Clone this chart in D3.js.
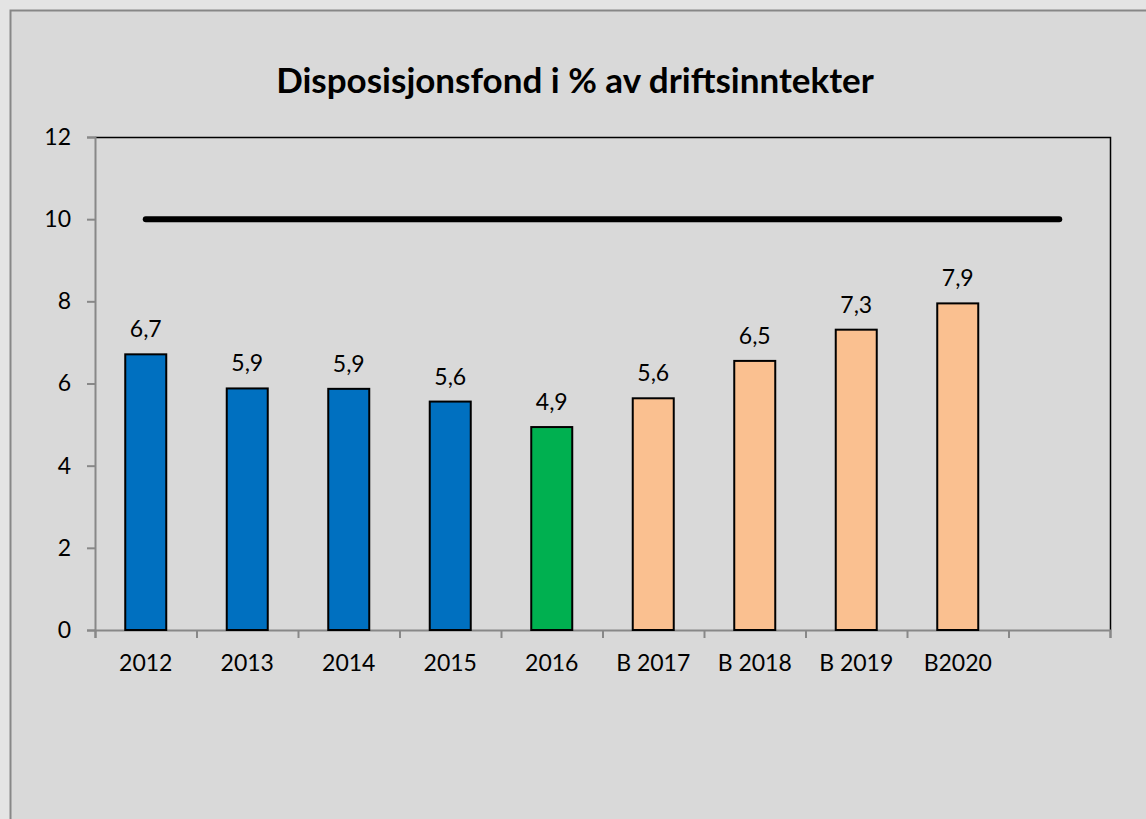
<!DOCTYPE html>
<html>
<head>
<meta charset="utf-8">
<script src="https://cdn.jsdelivr.net/npm/d3@7"></script>
<style>
  html, body { margin: 0; padding: 0; background: #e4e4e4; }
  svg { display: block; }
  text { font-family: Lato, "Open Sans", sans-serif; fill: #000; }
</style>
</head>
<body>
<svg id="chart" width="1146" height="819"></svg>
<script>
// data
var categories = ['2012', '2013', '2014', '2015', '2016', 'B 2017', 'B 2018', 'B 2019', 'B2020', ''];
var values = [6.71, 5.88, 5.87, 5.56, 4.94, 5.64, 6.55, 7.31, 7.95];
var labels = ['6,7', '5,9', '5,9', '5,6', '4,9', '5,6', '6,5', '7,3', '7,9'];
var barColors = ['#0070c0', '#0070c0', '#0070c0', '#0070c0', '#00b050', '#fac090', '#fac090', '#fac090', '#fac090'];
var target = [10, 10, 10, 10, 10, 10, 10, 10, 10, 10];
var yTicks = [0, 2, 4, 6, 8, 10, 12];

var svg = d3.select('#chart');
var pLeft = 95, pRight = 1110, pTop = 137, pBottom = 630;

// chart area
svg.append('rect').attr('x', 10.5).attr('y', 10.5).attr('width', 1150).attr('height', 830)
    .attr('fill', '#d9d9d9').attr('stroke', '#878787').attr('stroke-width', 2);

svg.append('text').attr('x', 575).attr('y', 93).attr('text-anchor', 'middle')
    .style('font-size', '35px').style('font-weight', 'bold')
    .text('Disposisjonsfond i % av driftsinntekter');

var x = d3.scaleBand().domain(categories).range([pLeft, pRight])
    .paddingInner(0.596).paddingOuter(0.298);
var xEdge = d3.scaleLinear().domain([0, categories.length]).range([pLeft, pRight]);
var y = d3.scaleLinear().domain([0, 12]).range([pBottom, pTop]);

// plot area frame (top / right)
svg.append('path')
    .attr('d', 'M' + pLeft + ',' + (pTop + 0.5) + 'H' + (pRight + 0.5) + 'V' + pBottom)
    .attr('fill', 'none').attr('stroke', '#000').attr('stroke-width', 1.5);

// y axis
var yAxis = svg.append('g').attr('transform', 'translate(' + pLeft + ',0)')
    .call(d3.axisLeft(y).tickValues(yTicks).tickSize(8).tickPadding(16));
yAxis.selectAll('path, line').attr('stroke', '#888').attr('stroke-width', 2);
yAxis.selectAll('text').style('font-size', '23px').style('font-family', 'Lato, sans-serif').attr('fill', '#000');

// x axis ticks at slot edges
var xTickAxis = svg.append('g').attr('transform', 'translate(0,' + pBottom + ')')
    .call(d3.axisBottom(xEdge).tickValues(d3.range(0, categories.length + 1)).tickSize(8).tickFormat(''));
xTickAxis.selectAll('path, line').attr('stroke', '#888').attr('stroke-width', 2);

// x labels
var xAxis = svg.append('g').attr('transform', 'translate(0,' + pBottom + ')')
    .call(d3.axisBottom(x).tickSize(0).tickPadding(25));
xAxis.select('.domain').remove();
xAxis.selectAll('text').style('font-size', '23px').style('font-family', 'Lato, sans-serif').attr('fill', '#000');

// bars
svg.append('g').selectAll('rect').data(values).enter().append('rect')
    .attr('x', function (d, i) { return x(categories[i]); })
    .attr('y', function (d) { return y(d); })
    .attr('width', x.bandwidth())
    .attr('height', function (d) { return y(0) - y(d); })
    .attr('fill', function (d, i) { return barColors[i]; })
    .attr('stroke', '#000').attr('stroke-width', 2);

// value labels
svg.append('g').selectAll('text').data(values).enter().append('text')
    .attr('x', function (d, i) { return x(categories[i]) + x.bandwidth() / 2; })
    .attr('y', function (d) { return y(d) - 17; })
    .attr('text-anchor', 'middle')
    .style('font-size', '23px')
    .text(function (d, i) { return labels[i]; });

// target line at 10
var line = d3.line()
    .x(function (d, i) { return x(categories[i]) + x.bandwidth() / 2; })
    .y(function (d) { return y(d); });
svg.append('path').datum(target).attr('d', line)
    .attr('fill', 'none').attr('stroke', '#000').attr('stroke-width', 6)
    .attr('stroke-linecap', 'round');
</script>
</body>
</html>
